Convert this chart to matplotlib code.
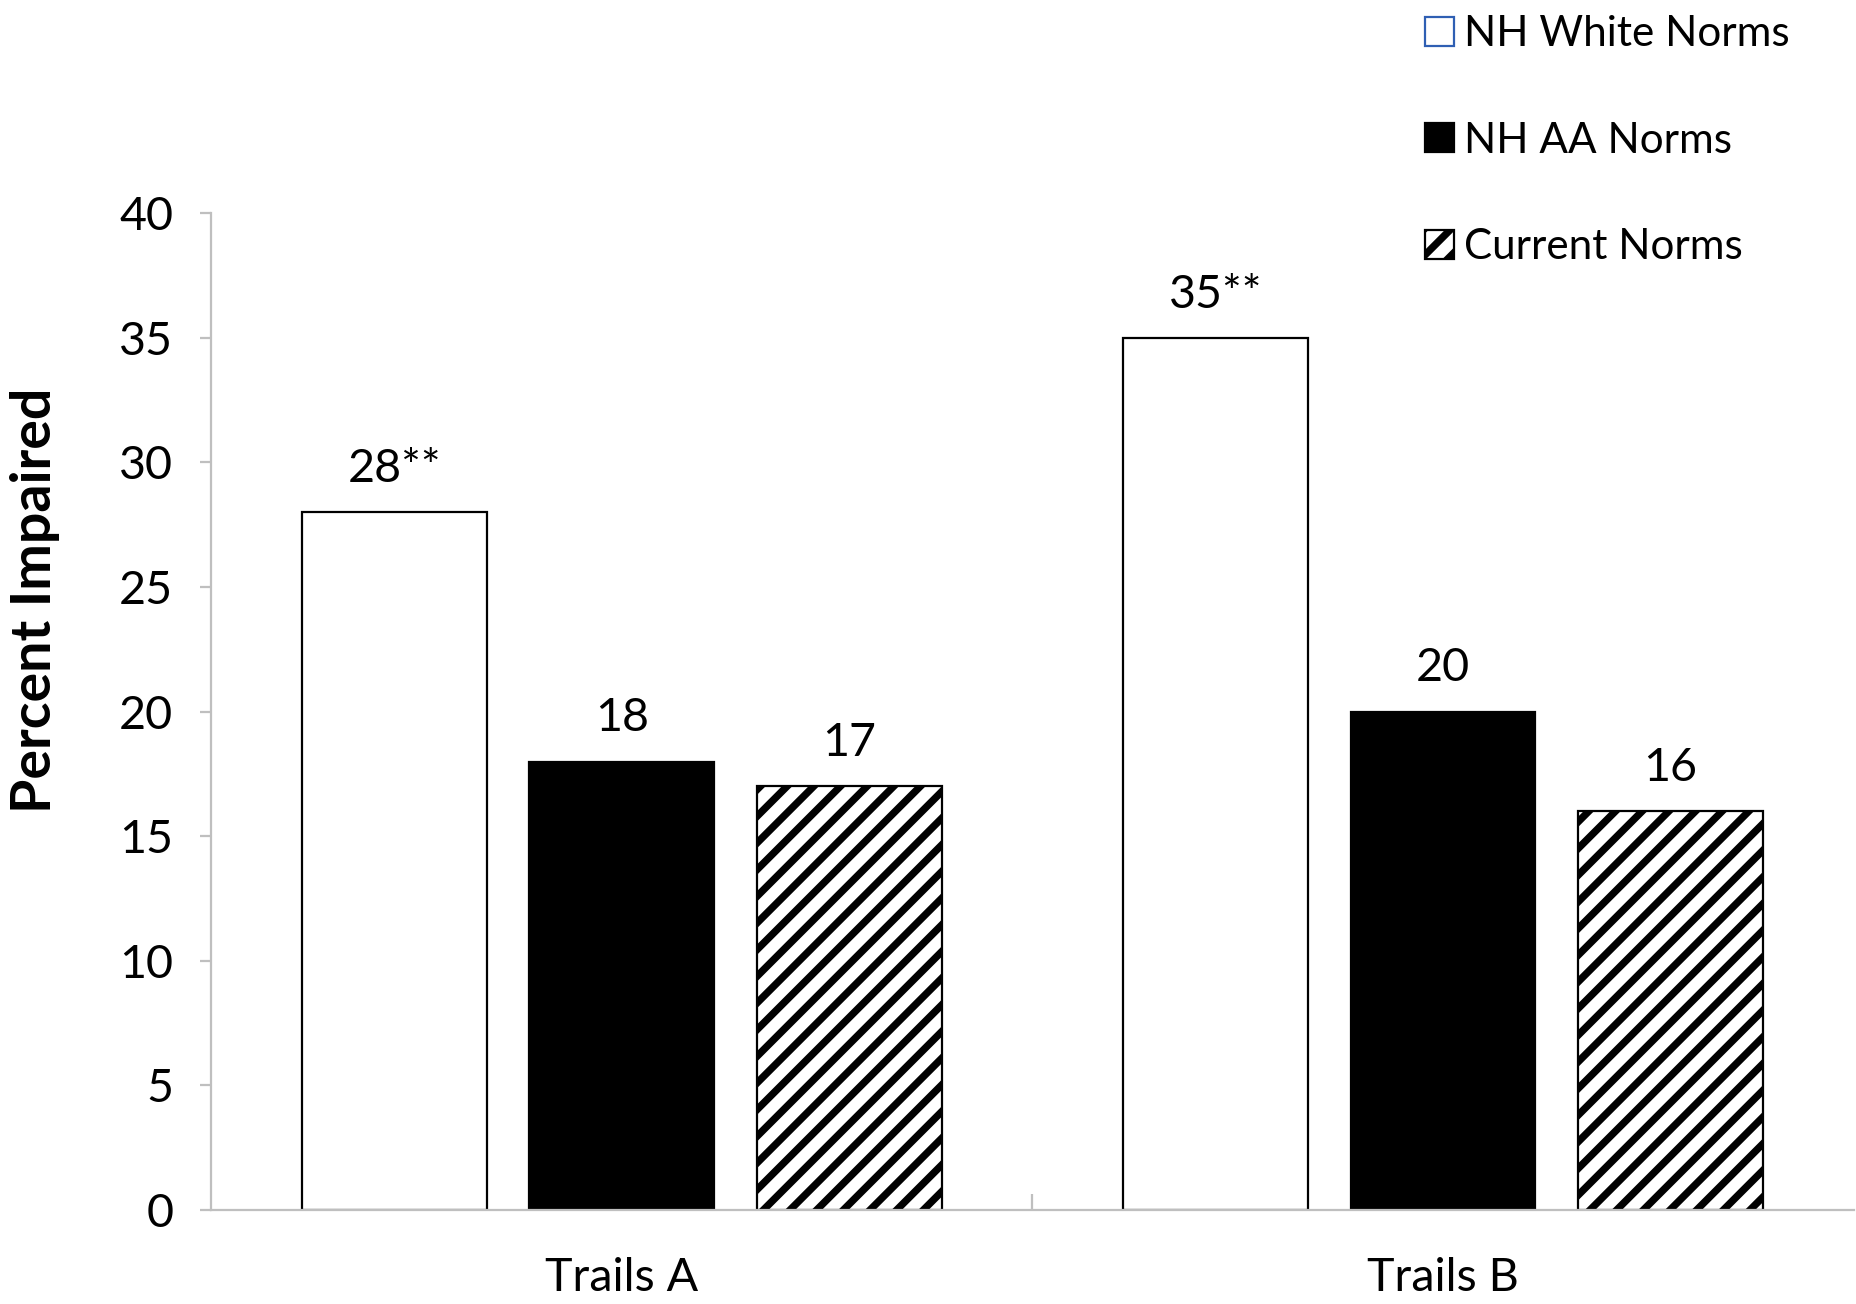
import numpy as np
import matplotlib
matplotlib.use("Agg")
import matplotlib.pyplot as plt
from matplotlib.patches import Patch

# data
groups = ["Trails A", "Trails B"]
series = ["NH White Norms", "NH AA Norms", "Current Norms"]
white_vals = [28, 35]
aa_vals = [18, 20]
current_vals = [17, 16]
white_lbls = ["28**", "35**"]
aa_lbls = ["18", "20"]
current_lbls = ["17", "16"]

plt.rcParams['font.family'] = ['Lato', 'DejaVu Sans']
plt.rcParams['hatch.linewidth'] = 3.3
grey = "#bfbfbf"

fig = plt.figure(figsize=(11.6, 8.15), dpi=160)
ax = fig.add_axes([0.1137, 0.072, 0.885, 0.7645])

x = np.arange(len(groups))
w = 0.225
step = 0.277
b1 = ax.bar(x - step, white_vals, w, color="white", edgecolor="black", linewidth=1.0)
b2 = ax.bar(x, aa_vals, w, color="black", edgecolor="black", linewidth=1.0)
b3 = ax.bar(x + step, current_vals, w, color="white", edgecolor="black", linewidth=1.0, hatch="//")

ax.bar_label(b1, labels=white_lbls, padding=10, fontsize=21)
ax.bar_label(b2, labels=aa_lbls, padding=10, fontsize=21)
ax.bar_label(b3, labels=current_lbls, padding=10, fontsize=21)

ax.set_xlim(-0.5, 1.5)
ax.set_ylim(0, 40)
ax.set_yticks(range(0, 41, 5))
ax.set_xticks(x)
ax.set_xticklabels(groups)
ax.set_xticks([0.5], minor=True)
ax.tick_params(axis="y", labelsize=21, length=5, width=1, color=grey, pad=12)
ax.tick_params(axis="x", which="major", length=0, labelsize=21, pad=21)
ax.tick_params(axis="x", which="minor", direction="in", length=7, width=1, color=grey)

for s in ["top", "right"]:
    ax.spines[s].set_visible(False)
for s in ["left", "bottom"]:
    ax.spines[s].set_color(grey)
    ax.spines[s].set_linewidth(1.0)

ax.set_ylabel("Percent Impaired", fontsize=25, fontweight="bold")
ax.yaxis.set_label_coords(-0.092, 0.612)

handles = [Patch(facecolor="white", edgecolor="#2f5fb3", linewidth=1.0),
           Patch(facecolor="black", edgecolor="black"),
           Patch(facecolor="white", edgecolor="black", hatch="//", linewidth=1.0)]
fig.legend(handles, series, loc="upper left", bbox_to_anchor=(0.761, 0.998),
           frameon=False, fontsize=19, labelspacing=1.62, handlelength=0.68,
           handleheight=0.68, handletextpad=0.25, borderpad=0.3, borderaxespad=0.0)

fig.savefig("out.png", dpi=160)
